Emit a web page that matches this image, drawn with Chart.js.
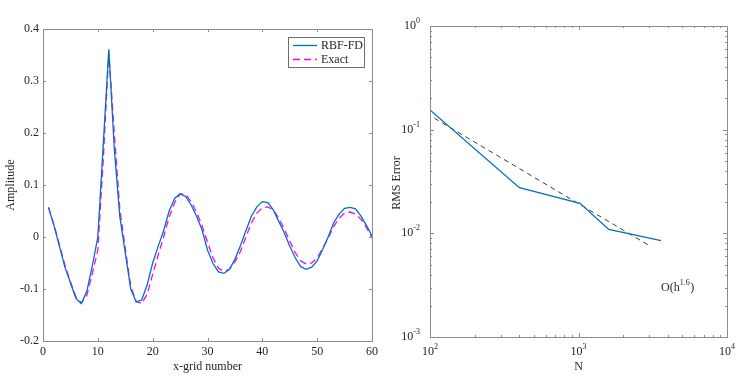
<!DOCTYPE html>
<html>
<head>
<meta charset="utf-8">
<script src="https://cdn.jsdelivr.net/npm/chart.js@4.4.0/dist/chart.umd.min.js"></script>
<style>
  body { margin: 0; background: #fff; }
  #wrap { position: relative; width: 755px; height: 383px; }
  canvas { position: absolute; top: 0; }
</style>
</head>
<body>
<div id="wrap">
  <canvas id="waveChart" width="380" height="383" style="left:0"></canvas>
  <canvas id="errorChart" width="375" height="383" style="left:380px"></canvas>
</div>
<script>
// left panel: amplitude along the grid
const gridNumber = [1, 2, 3, 4, 5, 6, 7, 8, 9, 10, 11, 12, 13, 14, 15, 16, 17, 18, 19, 20,
    21, 22, 23, 24, 25, 26, 27, 28, 29, 30, 31, 32, 33, 34, 35, 36, 37, 38, 39, 40,
    41, 42, 43, 44, 45, 46, 47, 48, 49, 50, 51, 52, 53, 54, 55, 56, 57, 58, 59, 60];
const rbfAmplitude = [0.057, 0.022, -0.018, -0.058, -0.088, -0.118, -0.128, -0.104, -0.055, 0.000,
    0.180, 0.361, 0.170, 0.040, -0.030, -0.100, -0.125, -0.121, -0.092, -0.050,
    -0.018, 0.012, 0.050, 0.074, 0.083, 0.078, 0.062, 0.040, 0.014, -0.025,
    -0.051, -0.067, -0.070, -0.062, -0.043, -0.017, 0.012, 0.040, 0.058, 0.068,
    0.066, 0.052, 0.030, 0.008, -0.018, -0.040, -0.057, -0.062, -0.058, -0.046,
    -0.024, 0.000, 0.027, 0.044, 0.055, 0.057, 0.054, 0.040, 0.022, 0.002];
const exactAmplitude = [0.057, 0.024, -0.015, -0.054, -0.086, -0.115, -0.127, -0.112, -0.070, -0.025,
    0.150, 0.355, 0.200, 0.055, -0.022, -0.095, -0.124, -0.128, -0.110, -0.072,
    -0.035, 0.000, 0.038, 0.066, 0.083, 0.082, 0.068, 0.048, 0.022, -0.010,
    -0.040, -0.060, -0.066, -0.062, -0.048, -0.028, 0.000, 0.027, 0.046, 0.056,
    0.058, 0.052, 0.036, 0.016, -0.008, -0.030, -0.046, -0.052, -0.050, -0.040,
    -0.022, -0.002, 0.020, 0.036, 0.046, 0.048, 0.044, 0.034, 0.018, -0.002];
const waveXTicks = [0, 10, 20, 30, 40, 50, 60];
const waveYTicks = [-0.2, -0.1, 0, 0.1, 0.2, 0.3, 0.4];
const waveYLabels = ['-0.2', '-0.1', '0', '0.1', '0.2', '0.3', '0.4'];

// right panel: convergence
const nodeCounts = [100, 400, 1024, 1600, 3600];
const rmsError = [0.155, 0.0276, 0.0195, 0.0109, 0.0085];
const slopeN = [107, 2960];
const slopeError = [0.129, 0.0077];
const nExponents = [2, 3, 4];
const errExponents = [-3, -2, -1, 0];

const FONT = '"Liberation Serif", "Times New Roman", serif';
const TEXT = '#262626';
const AXIS = '#8c8c8c';

function pts(xs, ys) {
    return xs.map((v, i) => ({ x: v, y: ys[i] }));
}

function fixedBox(size, key) {
    return (scale) => { scale[key] = size; };
}

function drawPower(ctx, exp, x, y, align) {
    ctx.font = '12px ' + FONT;
    const bw = ctx.measureText('10').width;
    ctx.font = '8px ' + FONT;
    const sw = ctx.measureText(String(exp)).width;
    const left = align === 'right' ? x - bw - sw : x - (bw + sw) / 2;
    ctx.textAlign = 'left';
    ctx.textBaseline = 'middle';
    ctx.font = '12px ' + FONT;
    ctx.fillText('10', left, y);
    ctx.font = '8px ' + FONT;
    ctx.fillText(String(exp), left + bw, y - 5);
}

function tickLine(ctx, x1, y1, x2, y2) {
    ctx.beginPath();
    ctx.moveTo(x1, y1);
    ctx.lineTo(x2, y2);
    ctx.stroke();
}

const waveFrame = {
    id: 'waveFrame',
    afterDraw(chart) {
        const { ctx, chartArea: a, scales: { x, y } } = chart;
        ctx.save();
        ctx.strokeStyle = AXIS;
        ctx.lineWidth = 1;
        ctx.strokeRect(a.left + 0.5, a.top + 0.5, a.right - a.left, a.bottom - a.top);
        waveXTicks.forEach(v => {
            const px = Math.round(x.getPixelForValue(v)) + 0.5;
            tickLine(ctx, px, a.bottom, px, a.bottom - 3);
            tickLine(ctx, px, a.top, px, a.top + 3);
        });
        waveYTicks.forEach(v => {
            const py = Math.round(y.getPixelForValue(v)) + 0.5;
            tickLine(ctx, a.left, py, a.left + 3, py);
            tickLine(ctx, a.right, py, a.right - 3, py);
        });

        ctx.fillStyle = TEXT;
        ctx.font = '12px ' + FONT;
        ctx.textBaseline = 'middle';
        ctx.textAlign = 'center';
        waveXTicks.forEach(v => ctx.fillText(String(v), x.getPixelForValue(v), a.bottom + 11));
        ctx.textAlign = 'right';
        waveYTicks.forEach((v, i) => ctx.fillText(waveYLabels[i], a.left - 4, y.getPixelForValue(v)));
        ctx.textAlign = 'center';
        ctx.fillText('x-grid number', (a.left + a.right) / 2, 367);
        ctx.save();
        ctx.translate(11, (a.top + a.bottom) / 2);
        ctx.rotate(-Math.PI / 2);
        ctx.fillText('Amplitude', 0, 0);
        ctx.restore();

        // legend
        ctx.fillStyle = '#fff';
        ctx.fillRect(288, 37, 76, 30);
        ctx.strokeStyle = '#6e6e6e';
        ctx.strokeRect(288.5, 37.5, 76, 30);
        ctx.lineWidth = 1.3;
        ctx.strokeStyle = '#0072BD';
        tickLine(ctx, 293, 45.5, 317, 45.5);
        ctx.strokeStyle = '#FF00FF';
        ctx.setLineDash([7, 4]);
        tickLine(ctx, 293, 59.5, 317, 59.5);
        ctx.setLineDash([]);
        ctx.fillStyle = TEXT;
        ctx.textAlign = 'left';
        ctx.fillText('RBF-FD', 321, 45.5);
        ctx.fillText('Exact', 321, 59.5);
        ctx.restore();
    }
};

const errorFrame = {
    id: 'errorFrame',
    afterDraw(chart) {
        const { ctx, chartArea: a, scales: { x, y } } = chart;
        ctx.save();
        ctx.strokeStyle = AXIS;
        ctx.lineWidth = 1;
        ctx.strokeRect(a.left + 0.5, a.top + 0.5, a.right - a.left, a.bottom - a.top);
        nExponents.forEach((e, i) => {
            for (let m = 1; m <= 9; m++) {
                if (m > 1 && i === nExponents.length - 1) break;
                const px = Math.round(x.getPixelForValue(m * Math.pow(10, e))) + 0.5;
                const len = m === 1 ? 4 : 2;
                tickLine(ctx, px, a.bottom, px, a.bottom - len);
                tickLine(ctx, px, a.top, px, a.top + len);
            }
        });
        errExponents.forEach((e, i) => {
            for (let m = 1; m <= 9; m++) {
                if (m > 1 && i === errExponents.length - 1) break;
                const py = Math.round(y.getPixelForValue(m * Math.pow(10, e))) + 0.5;
                const len = m === 1 ? 4 : 2;
                tickLine(ctx, a.left, py, a.left + len, py);
                tickLine(ctx, a.right, py, a.right - len, py);
            }
        });

        ctx.fillStyle = TEXT;
        nExponents.forEach(e => drawPower(ctx, e, x.getPixelForValue(Math.pow(10, e)), a.bottom + 15, 'center'));
        errExponents.forEach(e => drawPower(ctx, e, a.left - 10, y.getPixelForValue(Math.pow(10, e)), 'right'));

        ctx.font = '12px ' + FONT;
        ctx.textAlign = 'center';
        ctx.textBaseline = 'middle';
        ctx.fillText('N', (a.left + a.right) / 2, 367);
        ctx.save();
        ctx.translate(17, 183);
        ctx.rotate(-Math.PI / 2);
        ctx.fillText('RMS Error', 0, 0);
        ctx.restore();

        // slope annotation
        ctx.textAlign = 'left';
        const tx = 281, ty = 288;
        ctx.fillText('O(h', tx, ty);
        const w1 = ctx.measureText('O(h').width;
        ctx.font = '8px ' + FONT;
        ctx.fillText('1.6', tx + w1, ty - 5);
        const w2 = ctx.measureText('1.6').width;
        ctx.font = '12px ' + FONT;
        ctx.fillText(')', tx + w1 + w2 + 0.5, ty);
        ctx.restore();
    }
};

const ctx1 = document.getElementById('waveChart').getContext('2d');
const waveChart = new Chart(ctx1, {
    type: 'line',
    data: {
        datasets: [{
            label: 'RBF-FD',
            data: pts(gridNumber, rbfAmplitude),
            borderColor: '#0072BD',
            borderWidth: 1.3,
            pointRadius: 0,
            tension: 0
        }, {
            label: 'Exact',
            data: pts(gridNumber, exactAmplitude),
            borderColor: '#FF00FF',
            borderWidth: 1.3,
            borderDash: [7, 4],
            pointRadius: 0,
            tension: 0
        }]
    },
    options: {
        responsive: false,
        animation: false,
        layout: { padding: { top: 29, right: 8, left: 0, bottom: 0 } },
        scales: {
            x: {
                type: 'linear', min: 0, max: 60,
                grid: { display: false }, border: { display: false },
                ticks: { display: false },
                afterFit: fixedBox(42, 'height')
            },
            y: {
                min: -0.2, max: 0.4,
                grid: { display: false }, border: { display: false },
                ticks: { display: false },
                afterFit: fixedBox(43, 'width')
            }
        },
        plugins: { legend: { display: false }, tooltip: { enabled: false } }
    },
    plugins: [waveFrame]
});

const ctx2 = document.getElementById('errorChart').getContext('2d');
const errorChart = new Chart(ctx2, {
    type: 'line',
    data: {
        datasets: [{
            label: 'RMS Error',
            data: pts(nodeCounts, rmsError),
            borderColor: '#0072BD',
            borderWidth: 1.3,
            pointRadius: 0,
            tension: 0
        }, {
            label: 'O(h^1.6)',
            data: pts(slopeN, slopeError),
            borderColor: '#3a3a3a',
            borderWidth: 1,
            borderDash: [5, 4],
            pointRadius: 0,
            tension: 0
        }]
    },
    options: {
        responsive: false,
        animation: false,
        layout: { padding: { top: 26, right: 28, left: 0, bottom: 0 } },
        scales: {
            x: {
                type: 'logarithmic', min: 100, max: 10000,
                grid: { display: false }, border: { display: false },
                ticks: { display: false },
                afterFit: fixedBox(46, 'height')
            },
            y: {
                type: 'logarithmic', min: 0.001, max: 1,
                grid: { display: false }, border: { display: false },
                ticks: { display: false },
                afterFit: fixedBox(50, 'width')
            }
        },
        plugins: { legend: { display: false }, tooltip: { enabled: false } }
    },
    plugins: [errorFrame]
});
</script>
</body>
</html>
